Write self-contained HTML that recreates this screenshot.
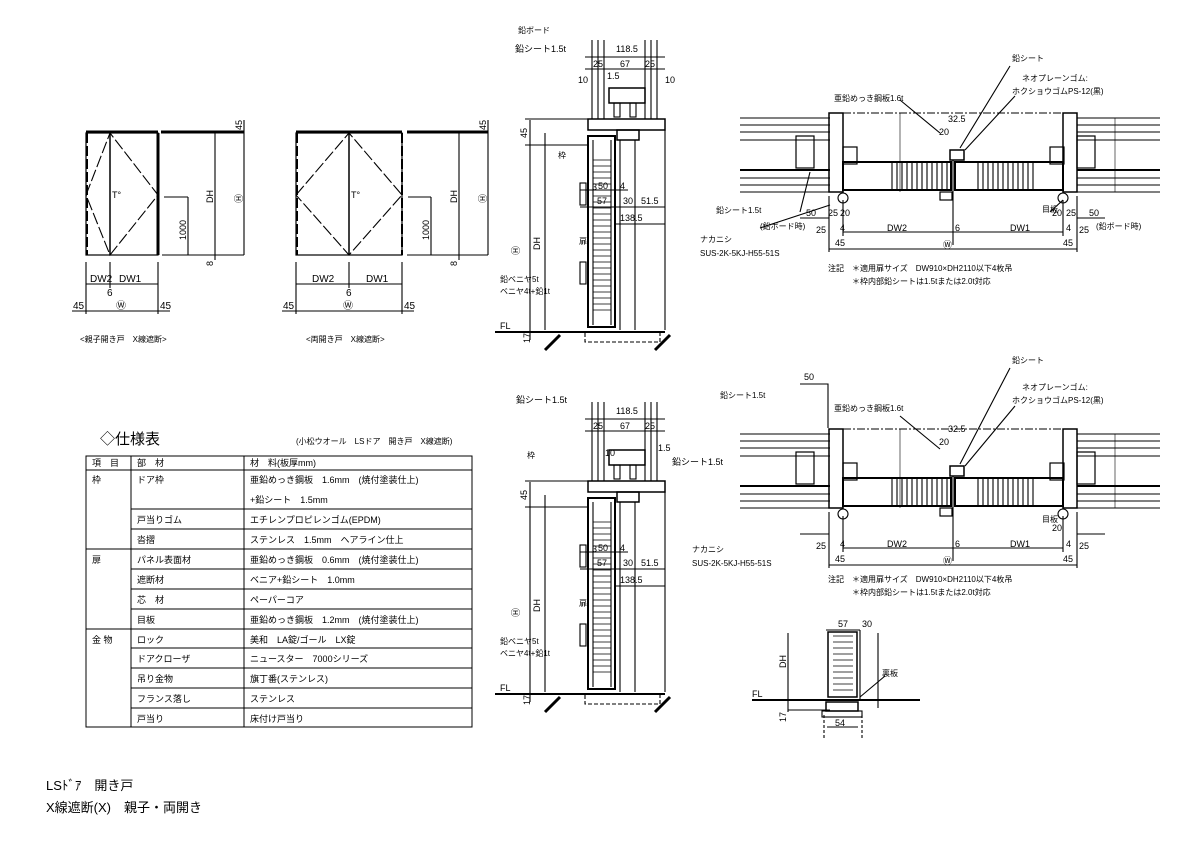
<!DOCTYPE html>
<html><head><meta charset="utf-8"><style>
body{margin:0;background:#fff}
svg{display:block}
text{font-family:"Liberation Sans","Noto Sans CJK JP",sans-serif;fill:#000}
</style></head><body>
<svg width="1191" height="842" viewBox="0 0 1191 842" xmlns="http://www.w3.org/2000/svg" stroke="#000" fill="none" stroke-width="1.1">
<defs>
<g id="hatchV">
  <line x1="0" y1="0" x2="0" y2="26"/><line x1="5" y1="0" x2="5" y2="26"/><line x1="10" y1="0" x2="10" y2="26"/><line x1="15" y1="0" x2="15" y2="26"/><line x1="20" y1="0" x2="20" y2="26"/><line x1="25" y1="0" x2="25" y2="26"/><line x1="30" y1="0" x2="30" y2="26"/><line x1="35" y1="0" x2="35" y2="26"/><line x1="40" y1="0" x2="40" y2="26"/><line x1="45" y1="0" x2="45" y2="26"/><line x1="50" y1="0" x2="50" y2="26"/><line x1="55" y1="0" x2="55" y2="26"/>
</g>
<g id="plan">
  <line x1="740" y1="118" x2="830" y2="118"/><line x1="740" y1="125" x2="830" y2="125"/><line x1="740" y1="132" x2="830" y2="132"/><line x1="740" y1="140" x2="830" y2="140"/>
  <line x1="740" y1="170" x2="830" y2="170" stroke-width="2"/><line x1="740" y1="178" x2="830" y2="178"/><line x1="740" y1="185" x2="830" y2="185"/><line x1="740" y1="192" x2="830" y2="192"/>
  <line x1="1077" y1="118" x2="1160" y2="118"/><line x1="1077" y1="125" x2="1160" y2="125"/><line x1="1077" y1="132" x2="1160" y2="132"/><line x1="1077" y1="140" x2="1160" y2="140"/>
  <line x1="1077" y1="170" x2="1160" y2="170" stroke-width="2"/><line x1="1077" y1="178" x2="1160" y2="178"/><line x1="1077" y1="185" x2="1160" y2="185"/><line x1="1077" y1="192" x2="1160" y2="192"/>
  <rect x="796" y="136" width="18" height="32" stroke-width="1.2"/><rect x="1077" y="136" width="18" height="32" stroke-width="1.2"/>
  <rect x="829" y="113" width="14" height="79" stroke-width="1.5"/><rect x="1063" y="113" width="14" height="79" stroke-width="1.5"/>
  <line x1="843" y1="113" x2="1063" y2="113" stroke-dasharray="8,2,2,2"/>
  <rect x="843" y="147" width="14" height="17" stroke-width="1.2"/><rect x="1050" y="147" width="14" height="17" stroke-width="1.2"/>
  <rect x="843" y="162" width="108" height="28" stroke-width="2"/><rect x="955" y="162" width="108" height="28" stroke-width="2"/>
  <use href="#hatchV" x="892" y="163"/><use href="#hatchV" x="978" y="163"/>
  <rect x="950" y="150" width="14" height="10" stroke-width="1.5"/><rect x="940" y="192" width="12" height="8" stroke-width="1.2"/>
  <circle cx="843" cy="198" r="5"/><circle cx="1063" cy="198" r="5"/>
  <line x1="953" y1="160" x2="953" y2="245"/>
  <line x1="829" y1="196" x2="829" y2="252"/><line x1="1077" y1="196" x2="1077" y2="252"/>
  <line x1="843" y1="200" x2="843" y2="236"/><line x1="1063" y1="200" x2="1063" y2="236"/>
  <line x1="843" y1="232" x2="1063" y2="232"/><line x1="829" y1="249" x2="1077" y2="249"/>
  <line x1="800" y1="218" x2="829" y2="218"/><line x1="1077" y1="218" x2="1105" y2="218"/>
  <line x1="900" y1="113" x2="900" y2="192" stroke-width=".6"/><line x1="1115" y1="118" x2="1115" y2="192" stroke-width=".6"/>
</g>
<g id="sect">
  <line x1="592" y1="40" x2="592" y2="119"/><line x1="598" y1="40" x2="598" y2="119"/><line x1="604" y1="40" x2="604" y2="119"/>
  <line x1="645" y1="40" x2="645" y2="119"/><line x1="651" y1="40" x2="651" y2="119"/><line x1="657" y1="40" x2="657" y2="119"/>
  <rect x="609" y="88" width="36" height="15" stroke-width="1.5"/>
  <rect x="614" y="103" width="6" height="14"/><rect x="630" y="103" width="6" height="14"/>
  <rect x="588" y="119" width="77" height="11" stroke-width="1.5"/>
  <rect x="617" y="130" width="22" height="10" stroke-width="1.5"/>
  <rect x="588" y="136" width="27" height="191" stroke-width="2"/>
  <line x1="593" y1="140" x2="593" y2="325"/><line x1="611" y1="140" x2="611" y2="325"/>
  <path d="M593 160H611M593 166H611M593 172H611M593 178H611M593 184H611M593 190H611M593 196H611M593 202H611M593 208H611M593 214H611M593 220H611M593 226H611M593 232H611M593 238H611M593 244H611M593 250H611M593 256H611M593 262H611M593 268H611M593 274H611M593 280H611M593 286H611M593 292H611M593 298H611M593 304H611M593 310H611" stroke-width=".7"/>
  <line x1="620" y1="140" x2="620" y2="330"/><line x1="635" y1="140" x2="635" y2="330"/><line x1="665" y1="130" x2="665" y2="330"/>
  <rect x="580" y="183" width="6" height="22"/><rect x="580" y="262" width="6" height="22"/>
  <line x1="495" y1="332" x2="665" y2="332" stroke-width="2"/>
  <path d="M585 333V342H660V333" stroke-dasharray="4,2"/>
  <line x1="545" y1="350" x2="560" y2="335" stroke-width="3"/><line x1="655" y1="350" x2="670" y2="335" stroke-width="3"/>
  <line x1="530" y1="120" x2="530" y2="340"/><line x1="545" y1="133" x2="545" y2="330"/>
  <line x1="525" y1="119" x2="588" y2="119"/><line x1="525" y1="145" x2="588" y2="145"/>
  <line x1="585" y1="57" x2="665" y2="57"/><line x1="585" y1="69" x2="665" y2="69"/>
  <line x1="580" y1="190" x2="628" y2="190"/><line x1="580" y1="207" x2="665" y2="207"/><line x1="615" y1="224" x2="665" y2="224"/>
</g>
</defs>

<!-- elevation left -->
<g>
<rect x="86" y="133" width="72" height="122" stroke-width="1.2"/>
<line x1="86" y1="132" x2="158" y2="132" stroke-width="3"/>
<line x1="161" y1="132" x2="244" y2="132" stroke-width="3"/>
<line x1="158" y1="133" x2="158" y2="255" stroke-width="3"/>
<line x1="87" y1="133" x2="87" y2="255" stroke-width="2" stroke-dasharray="10,3"/>
<line x1="162" y1="255" x2="244" y2="255"/>
<line x1="164" y1="197" x2="188" y2="197"/><line x1="188" y1="197" x2="188" y2="255"/>
<line x1="215" y1="133" x2="215" y2="260"/><line x1="244" y1="120" x2="244" y2="255"/>
<line x1="86" y1="262" x2="86" y2="314"/><line x1="158" y1="262" x2="158" y2="314"/>
<line x1="110" y1="133" x2="110" y2="255" stroke-width="1.5"/><path d="M86 195L110 133L158 195L110 255Z" stroke-dasharray="12,3"/>
<line x1="86" y1="284" x2="158" y2="284"/><line x1="110" y1="262" x2="110" y2="288"/><line x1="72" y1="311" x2="170" y2="311"/>
</g>
<!-- elevation right -->
<g>
<rect x="296" y="133" width="106" height="122" stroke-width="1.2"/>
<line x1="296" y1="132" x2="402" y2="132" stroke-width="3"/>
<line x1="407" y1="132" x2="488" y2="132" stroke-width="3"/>
<line x1="402" y1="133" x2="402" y2="255" stroke-width="2" stroke-dasharray="10,3"/>
<line x1="297" y1="133" x2="297" y2="255" stroke-width="2" stroke-dasharray="10,3"/>
<line x1="407" y1="255" x2="488" y2="255"/>
<line x1="408" y1="197" x2="431" y2="197"/><line x1="431" y1="197" x2="431" y2="255"/>
<line x1="459" y1="133" x2="459" y2="260"/><line x1="488" y1="120" x2="488" y2="255"/>
<line x1="296" y1="262" x2="296" y2="314"/><line x1="402" y1="262" x2="402" y2="314"/>
<line x1="349" y1="133" x2="349" y2="255" stroke-width="1.5"/><path d="M296 195L349 133L402 195L349 255Z" stroke-dasharray="12,3"/>
<line x1="296" y1="284" x2="402" y2="284"/><line x1="349" y1="262" x2="349" y2="288"/><line x1="282" y1="311" x2="414" y2="311"/>
</g>
<g font-size="10" stroke="none">
<text x="112" y="198" font-size="9">T°</text><text x="351" y="198" font-size="9">T°</text>
<text x="90" y="282">DW2</text><text x="119" y="282">DW1</text><text x="107" y="296">6</text>
<text x="73" y="309">45</text><text x="116" y="309">Ⓦ</text><text x="160" y="309">45</text>
<text x="312" y="282">DW2</text><text x="366" y="282">DW1</text><text x="346" y="296">6</text>
<text x="283" y="309">45</text><text x="343" y="309">Ⓦ</text><text x="404" y="309">45</text>
<text x="80" y="342" font-size="8">&lt;親子開き戸　X線遮断&gt;</text>
<text x="306" y="342" font-size="8">&lt;両開き戸　X線遮断&gt;</text>
<g font-size="9">
<text transform="translate(242,130) rotate(-90)">45</text><text transform="translate(486,130) rotate(-90)">45</text>
<text transform="translate(213,203) rotate(-90)">DH</text><text transform="translate(457,203) rotate(-90)">DH</text>
<text transform="translate(242,203) rotate(-90)">Ⓗ</text><text transform="translate(486,203) rotate(-90)">Ⓗ</text>
<text transform="translate(186,240) rotate(-90)">1000</text><text transform="translate(429,240) rotate(-90)">1000</text>
<text transform="translate(213,266) rotate(-90)">8</text><text transform="translate(457,266) rotate(-90)">8</text>
</g></g>

<!-- sections -->
<use href="#sect"/>
<use href="#sect" y="362"/>
<g font-size="9" stroke="none">
<text x="515" y="52">鉛シート1.5t</text><text x="518" y="33" font-size="8">鉛ボード</text>
<text x="616" y="52">118.5</text><text x="593" y="67">25</text><text x="620" y="67">67</text><text x="645" y="67">25</text>
<text x="607" y="79">1.5</text><text x="578" y="83">10</text><text x="665" y="83">10</text>
<text x="592" y="190">3</text><text x="598" y="189">50</text><text x="620" y="189">4</text>
<text x="597" y="204">57</text><text x="623" y="204">30</text><text x="641" y="204">51.5</text><text x="620" y="221">138.5</text>
<text x="500" y="282" font-size="8">鉛ベニヤ5t</text><text x="500" y="294" font-size="8">ベニヤ4t+鉛1t</text>
<text x="500" y="329">FL</text><text x="579" y="244" font-size="8">扉</text><text x="558" y="158" font-size="8">枠</text>
<text transform="translate(527,138) rotate(-90)">45</text><text transform="translate(540,250) rotate(-90)">DH</text>
<text transform="translate(519,255) rotate(-90)">Ⓗ</text><text transform="translate(530,343) rotate(-90)">17</text>
<text x="516" y="403">鉛シート1.5t</text><text x="672" y="465">鉛シート1.5t</text>
<text x="616" y="414">118.5</text><text x="593" y="429">25</text><text x="620" y="429">67</text><text x="645" y="429">25</text>
<text x="605" y="456">10</text><text x="658" y="451">1.5</text><text x="527" y="458" font-size="8">枠</text>
<text x="592" y="552">3</text><text x="598" y="551">50</text><text x="620" y="551">4</text>
<text x="597" y="566">57</text><text x="623" y="566">30</text><text x="641" y="566">51.5</text><text x="620" y="583">138.5</text>
<text x="500" y="644" font-size="8">鉛ベニヤ5t</text><text x="500" y="656" font-size="8">ベニヤ4t+鉛1t</text>
<text x="500" y="691">FL</text><text x="579" y="606" font-size="8">扉</text>
<text transform="translate(527,500) rotate(-90)">45</text><text transform="translate(540,612) rotate(-90)">DH</text>
<text transform="translate(519,617) rotate(-90)">Ⓗ</text><text transform="translate(530,705) rotate(-90)">17</text>
</g>

<!-- plans -->
<use href="#plan"/>
<use href="#plan" y="316"/>
<g>
<path d="M800 384H828V428" /><path d="M940 133L900 100" /><path d="M960 148L1010 66"/><path d="M965 150L1015 96"/>
<path d="M940 449L900 416" /><path d="M960 464L1010 368"/><path d="M965 466L1015 406"/>
<path d="M800 212L810 172"/><path d="M760 228L830 205"/><path d="M1050 212L1063 200"/>
</g>
<g font-size="9" stroke="none">
<text x="1012" y="61" font-size="8">鉛シート</text><text x="1022" y="81" font-size="8">ネオプレーンゴム:</text><text x="1012" y="94" font-size="8">ホクショウゴムPS-12(黒)</text>
<text x="834" y="101" font-size="8">亜鉛めっき鋼板1.6t</text><text x="948" y="122">32.5</text><text x="939" y="135">20</text>
<text x="716" y="213" font-size="8">鉛シート1.5t</text><text x="806" y="216">50</text><text x="828" y="216">25</text><text x="840" y="216">20</text>
<text x="760" y="229" font-size="8">(鉛ボード時)</text><text x="816" y="233">25</text><text x="840" y="231">4</text>
<text x="887" y="231">DW2</text><text x="955" y="231">6</text><text x="1010" y="231">DW1</text>
<text x="1052" y="216">20</text><text x="1066" y="216">25</text><text x="1089" y="216">50</text><text x="1066" y="231">4</text><text x="1079" y="233">25</text>
<text x="1096" y="229" font-size="8">(鉛ボード時)</text><text x="1042" y="212" font-size="8">目板</text>
<text x="835" y="246">45</text><text x="943" y="248">Ⓦ</text><text x="1063" y="246">45</text>
<text x="700" y="242" font-size="8">ナカニシ</text><text x="700" y="256" font-size="8">SUS-2K-5KJ-H55-51S</text>
<text x="828" y="271" font-size="8">注記　＊適用扉サイズ　DW910×DH2110以下4枚吊</text><text x="852" y="284" font-size="8">＊枠内部鉛シートは1.5tまたは2.0t対応</text>
<text x="1012" y="363" font-size="8">鉛シート</text><text x="1022" y="390" font-size="8">ネオプレーンゴム:</text><text x="1012" y="403" font-size="8">ホクショウゴムPS-12(黒)</text>
<text x="720" y="398" font-size="8">鉛シート1.5t</text><text x="804" y="380">50</text>
<text x="834" y="411" font-size="8">亜鉛めっき鋼板1.6t</text><text x="948" y="432">32.5</text><text x="939" y="445">20</text>
<text x="816" y="549">25</text><text x="840" y="547">4</text><text x="887" y="547">DW2</text><text x="955" y="547">6</text><text x="1010" y="547">DW1</text>
<text x="1052" y="531">20</text><text x="1066" y="547">4</text><text x="1079" y="549">25</text><text x="1042" y="522" font-size="8">目板</text>
<text x="835" y="562">45</text><text x="943" y="564">Ⓦ</text><text x="1063" y="562">45</text>
<text x="692" y="552" font-size="8">ナカニシ</text><text x="692" y="566" font-size="8">SUS-2K-5KJ-H55-51S</text>
<text x="828" y="582" font-size="8">注記　＊適用扉サイズ　DW910×DH2110以下4枚吊</text><text x="852" y="595" font-size="8">＊枠内部鉛シートは1.5tまたは2.0t対応</text>
</g>

<!-- small detail -->
<g>
<rect x="828" y="632" width="29" height="65" stroke-width="1.5"/>
<path d="M833 636H853M833 642H853M833 648H853M833 654H853M833 660H853M833 666H853M833 672H853M833 678H853M833 684H853M833 690H853" stroke-width=".7"/>
<line x1="860" y1="630" x2="860" y2="700"/><line x1="878" y1="633" x2="878" y2="708"/>
<line x1="752" y1="700" x2="920" y2="700" stroke-width="2"/>
<rect x="826" y="702" width="32" height="9" stroke-width="1.5"/><rect x="822" y="711" width="40" height="6"/>
<line x1="788" y1="633" x2="788" y2="712"/><line x1="788" y1="710" x2="830" y2="710"/>
<line x1="826" y1="630" x2="860" y2="630"/><line x1="827" y1="727" x2="858" y2="727"/>
<line x1="824" y1="715" x2="824" y2="740" stroke-dasharray="3,2"/><line x1="862" y1="715" x2="862" y2="740" stroke-dasharray="3,2"/>
<line x1="860" y1="697" x2="885" y2="676"/>
</g>
<g font-size="9" stroke="none">
<text x="838" y="627">57</text><text x="862" y="627">30</text><text x="752" y="697">FL</text>
<text x="835" y="726">54</text><text x="882" y="676" font-size="8">裏板</text>
<text transform="translate(786,668) rotate(-90)">DH</text><text transform="translate(786,722) rotate(-90)">17</text>
</g>

<!-- spec table -->
<g stroke-width="1">
<rect x="86" y="456" width="386" height="271"/>
<line x1="86" y1="470" x2="472" y2="470"/>
<line x1="131" y1="456" x2="131" y2="727"/><line x1="244" y1="456" x2="244" y2="727"/>
<line x1="131" y1="509" x2="472" y2="509"/><line x1="131" y1="529" x2="472" y2="529"/>
<line x1="86" y1="549" x2="472" y2="549"/>
<line x1="131" y1="569" x2="472" y2="569"/><line x1="131" y1="589" x2="472" y2="589"/><line x1="131" y1="609" x2="472" y2="609"/>
<line x1="86" y1="629" x2="472" y2="629"/>
<line x1="131" y1="648" x2="472" y2="648"/><line x1="131" y1="668" x2="472" y2="668"/><line x1="131" y1="688" x2="472" y2="688"/><line x1="131" y1="708" x2="472" y2="708"/>
</g>
<g stroke="none" font-size="9">
<text x="100" y="444" font-size="15">◇仕様表</text>
<text x="296" y="444" font-size="8">(小松ウオール　LSドア　開き戸　X線遮断)</text>
<text x="92" y="466">項　目</text><text x="137" y="466">部　材</text><text x="250" y="466">材　料(板厚mm)</text>
<text x="92" y="483">枠</text><text x="137" y="483">ドア枠</text><text x="250" y="483">亜鉛めっき鋼板　1.6mm　(焼付塗装仕上)</text>
<text x="250" y="503">+鉛シート　1.5mm</text>
<text x="137" y="523">戸当りゴム</text><text x="250" y="523">エチレンプロピレンゴム(EPDM)</text>
<text x="137" y="543">沓摺</text><text x="250" y="543">ステンレス　1.5mm　ヘアライン仕上</text>
<text x="92" y="563">扉</text><text x="137" y="563">パネル表面材</text><text x="250" y="563">亜鉛めっき鋼板　0.6mm　(焼付塗装仕上)</text>
<text x="137" y="583">遮断材</text><text x="250" y="583">ベニア+鉛シート　1.0mm</text>
<text x="137" y="603">芯　材</text><text x="250" y="603">ペーパーコア</text>
<text x="137" y="623">目板</text><text x="250" y="623">亜鉛めっき鋼板　1.2mm　(焼付塗装仕上)</text>
<text x="92" y="643">金 物</text><text x="137" y="643">ロック</text><text x="250" y="643">美和　LA錠/ゴール　LX錠</text>
<text x="137" y="662">ドアクローザ</text><text x="250" y="662">ニュースター　7000シリーズ</text>
<text x="137" y="682">吊り金物</text><text x="250" y="682">旗丁番(ステンレス)</text>
<text x="137" y="702">フランス落し</text><text x="250" y="702">ステンレス</text>
<text x="137" y="722">戸当り</text><text x="250" y="722">床付け戸当り</text>
<text x="46" y="790" font-size="13">LSﾄﾞｱ　開き戸</text>
<text x="46" y="812" font-size="13">X線遮断(X)　親子・両開き</text>
</g>
</svg>
</body></html>
